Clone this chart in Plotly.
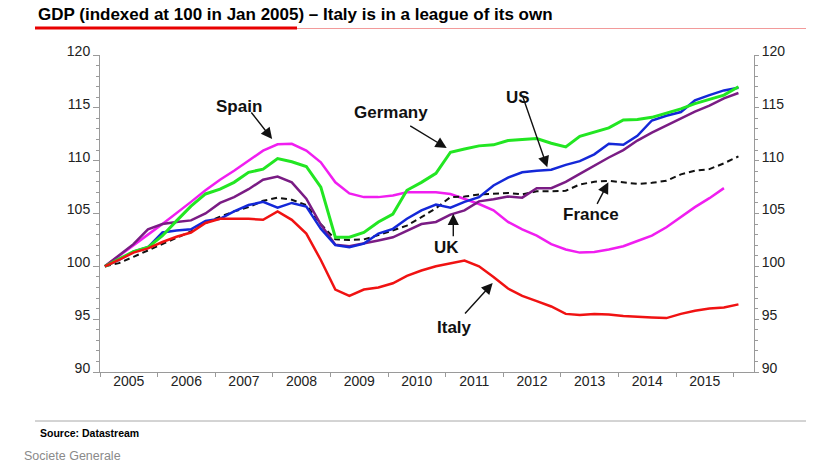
import plotly.graph_objects as go
import pandas as pd
from datetime import datetime

# ---------------- data (quarterly, 2005Q1 = 100) ----------------
quarters = pd.date_range("2005-02-01", periods=45, freq="3MS")

italy = [100.0, 100.6, 101.3, 101.7, 102.3, 102.8, 103.2, 104.1, 104.5, 104.5, 104.5, 104.4,
         105.2, 104.4, 103.1, 100.6, 97.8, 97.2, 97.8, 98.0, 98.4, 99.1, 99.6, 100.0,
         100.25, 100.55, 100.0, 99.0, 97.9, 97.2, 96.7, 96.2, 95.5, 95.4, 95.5, 95.45,
         95.3, 95.2, 95.15, 95.1, 95.5, 95.8, 96.0, 96.1, 96.4]

spain = [100.0, 101.0, 102.0, 103.0, 104.0, 105.0, 106.1, 107.2, 108.2, 109.05, 110.0, 110.95,
         111.55, 111.6, 110.95, 109.85, 107.95, 106.9, 106.55, 106.55, 106.7, 107.0, 107.0, 107.0,
         106.85, 106.4, 105.9, 105.3, 104.2, 103.5, 102.9, 102.1, 101.6, 101.3, 101.35, 101.6,
         101.9, 102.4, 102.9, 103.7, 104.65, 105.6, 106.45, 107.4]

germany = [100.0, 100.7, 101.4, 101.8, 102.9, 104.3, 105.7, 106.85, 107.3, 107.95, 108.9, 109.2,
           110.2, 109.9, 109.45, 107.5, 102.75, 102.75, 103.2, 104.2, 104.95, 107.2, 107.95, 108.8,
           110.8, 111.1, 111.4, 111.5, 111.9, 112.0, 112.1, 111.65, 111.3, 112.3, 112.7, 113.1,
           113.85, 113.9, 114.1, 114.5, 114.9, 115.4, 115.8, 116.2, 117.0]

us = [100.0, 100.6, 101.4, 101.8, 103.2, 103.4, 103.5, 104.3, 104.5, 105.2, 105.8, 106.1,
      105.55, 106.0, 105.65, 103.55, 102.0, 101.8, 102.15, 103.1, 103.55, 104.5, 105.3, 105.85,
      105.55, 106.1, 106.55, 107.65, 108.4, 108.9, 109.05, 109.15, 109.6, 109.95, 110.6, 111.6,
      111.5, 112.35, 113.8, 114.25, 114.6, 115.7, 116.2, 116.65, 116.9]

uk = [100.0, 101.0, 102.1, 103.5, 104.0, 104.2, 104.35, 105.0, 106.0, 106.55, 107.3, 108.2,
      108.5, 107.95, 106.4, 103.95, 102.05, 101.9, 102.15, 102.45, 102.75, 103.4, 104.0, 104.2,
      104.9, 105.3, 106.15, 106.35, 106.6, 106.5, 107.4, 107.4, 108.0, 108.75, 109.55, 110.3,
      111.0, 111.9, 112.65, 113.35, 114.0, 114.65, 115.2, 115.9, 116.4]

france = [100.0, 100.3, 100.9, 101.5, 102.1, 102.7, 103.3, 104.1, 104.7, 105.2, 105.6, 106.2,
          106.5, 106.3, 105.8, 104.0, 102.55, 102.5, 102.55, 102.95, 103.4, 103.85, 104.65, 105.5,
          106.55, 106.6, 106.8, 106.9, 106.95, 106.8, 107.1, 107.1, 107.15, 107.75, 108.0, 108.1,
          107.95, 107.8, 107.9, 108.1, 108.7, 109.05, 109.2, 109.75, 110.4]

y_ticks = [90, 95, 100, 105, 110, 115, 120]

# ---------------- helpers ----------------
def yr(frac):
    """fractional year -> ISO date string (for annotation anchors)"""
    y = int(frac)
    start = datetime(y, 1, 1)
    end = datetime(y + 1, 1, 1)
    return (start + (end - start) * (frac - y)).strftime("%Y-%m-%d %H:%M")

fig = go.Figure()

def add(series, color, width=2.5, dash="solid"):
    fig.add_trace(go.Scatter(x=quarters[:len(series)], y=series, mode="lines",
                             line=dict(color=color, width=width, dash=dash),
                             hoverinfo="skip", showlegend=False))

add(spain, "#F01EF0", 2.5)
add(france, "#111111", 2, "6px,4px")
add(uk, "#7A1C84", 2.5)
add(us, "#1428D8", 2.5)
add(germany, "#22E622", 3)
add(italy, "#F01212", 2.5)
# invisible carrier for the right-hand axis
fig.add_trace(go.Scatter(x=[quarters[0]], y=[100], yaxis="y2", mode="lines",
                         line=dict(width=0), hoverinfo="skip", showlegend=False))

axis_grey = "#9a9a9a"
tick_font = dict(family="Liberation Sans, Arial", size=14, color="#222222")

# page has an 8px body margin, so the figure is 806x459 placed at (8, 8)
fig.update_layout(
    width=806, height=459,
    margin=dict(l=92, r=60, t=47, b=95),
    plot_bgcolor="white", paper_bgcolor="white",
    showlegend=False,
    xaxis=dict(type="date", range=[yr(2005.0), yr(2016.354)],
               tick0="2005-01-01", dtick="M12", ticklabelmode="period", tickformat="%Y",
               ticks="outside", ticklen=4, tickcolor=axis_grey, ticklabelstandoff=-8,
               showline=True, linecolor=axis_grey, linewidth=1,
               showgrid=False, zeroline=False, tickfont=tick_font),
    yaxis=dict(range=[90, 120], tickvals=y_ticks,
               ticks="outside", ticklen=6, tickcolor=axis_grey, ticklabelshift=-4,
               minor=dict(dtick=1, ticks="outside", ticklen=3, tickcolor=axis_grey),
               showline=True, linecolor=axis_grey, linewidth=1,
               showgrid=False, zeroline=False, tickfont=tick_font),
    yaxis2=dict(range=[90, 120], tickvals=y_ticks, overlaying="y", side="right", anchor="x",
                ticks="outside", ticklen=4, tickcolor=axis_grey, ticklabelshift=-4,
                minor=dict(dtick=1, ticks="outside", ticklen=3, tickcolor=axis_grey),
                showline=True, linecolor=axis_grey, linewidth=1,
                showgrid=False, zeroline=False, tickfont=tick_font),
)

# ---------------- country labels and arrows ----------------
label_font = dict(family="Liberation Sans, Arial", size=17, color="#111111")
labels = [
    ("Spain", 2007.41, 115.1),
    ("Germany", 2010.06, 114.55),
    ("US", 2012.26, 116.0),
    ("France", 2013.52, 104.9),
    ("UK", 2011.02, 101.8),
    ("Italy", 2011.15, 94.25),
]
for txt, xf, yv in labels:
    fig.add_annotation(x=yr(xf), y=yv, text="<b>%s</b>" % txt, showarrow=False,
                       font=label_font, xanchor="center", yanchor="middle")

arrows = [  # head (fractional year, value), tail offset in px
    (2007.99, 112.05, -22, -28),
    (2011.02, 111.2, -38, -23),
    (2012.765, 109.37, -25, -72),
    (2013.825, 107.95, -12, 23),
    (2011.134, 104.97, 0, 24),
    (2011.818, 98.42, -29, 32),
]
for xf, yv, ax, ay in arrows:
    fig.add_annotation(x=yr(xf), y=yv, ax=ax, ay=ay, text="", showarrow=True,
                       arrowhead=2, arrowsize=1.6, arrowwidth=1.4, arrowcolor="#111111")

# ---------------- title, rules, footnotes ----------------
# page-pixel -> paper coordinates (plot area spans x 100..754, y 55..372 on the page)
def px(xp):
    return (xp - 100) / 654.0

def py(yp):
    return (372 - yp) / 317.0

fig.add_annotation(xref="paper", yref="paper", x=px(36), y=py(15), xanchor="left", yanchor="middle",
                   text="<b>GDP (indexed at 100 in Jan 2005) – Italy is in a league of its own</b>",
                   showarrow=False, font=dict(family="Liberation Sans, Arial", size=17, color="#000000"))
fig.add_shape(type="line", xref="paper", yref="paper", x0=px(35), x1=px(820), y0=py(28.5), y1=py(28.5),
              line=dict(color="#F29A9A", width=1))
fig.add_shape(type="line", xref="paper", yref="paper", x0=px(35), x1=px(297), y0=py(28), y1=py(28),
              line=dict(color="#E80000", width=3))
fig.add_shape(type="line", xref="paper", yref="paper", x0=px(35), x1=px(820), y0=py(421), y1=py(421),
              line=dict(color="#A8A8A8", width=1))
fig.add_annotation(xref="paper", yref="paper", x=px(38), y=py(433), xanchor="left", yanchor="middle",
                   text="<b>Source: Datastream</b>", showarrow=False,
                   font=dict(family="Liberation Sans, Arial", size=10.5, color="#000000"))
fig.add_annotation(xref="paper", yref="paper", x=px(22), y=py(456), xanchor="left", yanchor="middle",
                   text="Societe Generale", showarrow=False,
                   font=dict(family="Liberation Sans, Arial", size=12.5, color="#8a8a8a"))

fig.write_html("out.html")
